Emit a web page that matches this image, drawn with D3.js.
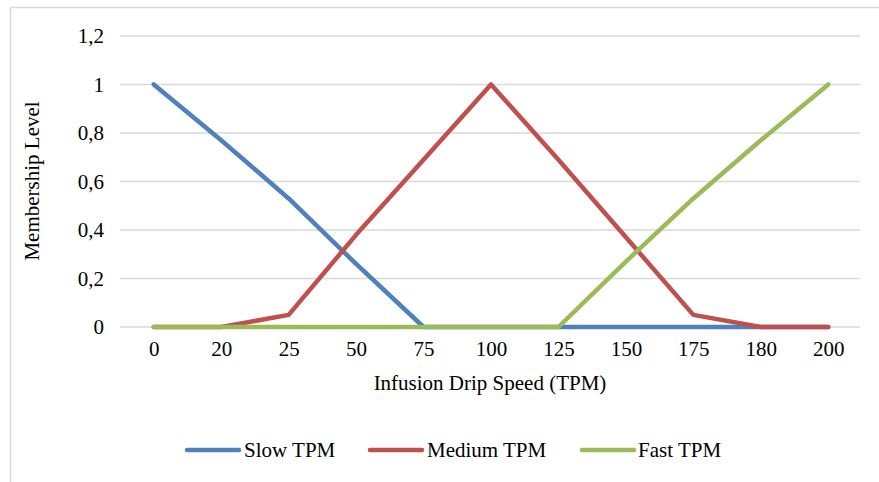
<!DOCTYPE html>
<html>
<head>
<meta charset="utf-8">
<script src="https://cdn.jsdelivr.net/npm/d3@7"></script>
<style>
  html, body { margin: 0; padding: 0; background: #fff; }
  svg { display: block; }
</style>
</head>
<body>
<svg id="chart" width="879" height="482"></svg>
<script>
const categories = ["0", "20", "25", "50", "75", "100", "125", "150", "175", "180", "200"];
const slowTPM   = [1, 0.77, 0.53, 0.26, 0, 0, 0, 0, 0, 0, 0];
const mediumTPM = [0, 0, 0.05, 0.38, 0.69, 1, 0.69, 0.37, 0.05, 0, 0];
const fastTPM   = [0, 0, 0, 0, 0, 0, 0, 0.27, 0.53, 0.77, 1];
const yTicks = [0, 0.2, 0.4, 0.6, 0.8, 1, 1.2];
const seriesNames = ["Slow TPM", "Medium TPM", "Fast TPM"];
const seriesColors = ["#4F81BD", "#C0504D", "#9BBB59"];

const series = [slowTPM, mediumTPM, fastTPM].map((v, i) => ({
  name: seriesNames[i], color: seriesColors[i], values: v
}));

const FONT = "Liberation Serif";
const FS = "21px";
const svg = d3.select("#chart");
const W = 879, H = 482;
const plot = { left: 120, right: 862, top: 36, bottom: 327 };

function styleText(sel) {
  sel.style("font-family", FONT).style("font-size", FS).style("fill", "#000");
}

// outer border
svg.append("rect")
  .attr("x", 10.5).attr("y", 7.5)
  .attr("width", W + 20).attr("height", H + 20)
  .attr("fill", "none").attr("stroke", "#d9d9d9").attr("stroke-width", 1.5);

const x = d3.scalePoint().domain(categories)
  .range([plot.left, plot.right]).padding(0.5);
const y = d3.scaleLinear().domain([0, 1.2]).range([plot.bottom, plot.top]);

// gridlines
svg.append("g").selectAll("line").data(yTicks).join("line")
  .attr("x1", plot.left).attr("x2", plot.right - 2)
  .attr("y1", d => y(d)).attr("y2", d => y(d))
  .attr("stroke", "#d9d9d9").attr("stroke-width", 1.5);

// y axis labels
const yAxis = d3.axisLeft(y).tickValues(yTicks)
  .tickFormat(d => d3.format("~g")(d).replace(".", ","))
  .tickSize(0).tickPadding(0);
const gy = svg.append("g").attr("transform", `translate(${plot.left - 16},0)`).call(yAxis);
gy.select(".domain").remove();
styleText(gy.selectAll("text"));

// x axis labels
const xAxis = d3.axisBottom(x).tickSize(0).tickPadding(0);
const gx = svg.append("g").attr("transform", `translate(0,${plot.bottom + 14})`).call(xAxis);
gx.select(".domain").remove();
styleText(gx.selectAll("text"));

// axis titles
svg.append("text")
  .attr("x", 490).attr("y", 390)
  .attr("text-anchor", "middle")
  .text("Infusion Drip Speed (TPM)")
  .call(styleText);
svg.append("text")
  .attr("transform", `translate(39,181) rotate(-90)`)
  .attr("text-anchor", "middle")
  .text("Membership Level")
  .call(styleText);

// lines
const line = d3.line().x((d, i) => x(categories[i])).y(d => y(d));
svg.append("g").selectAll("path").data(series).join("path")
  .attr("d", d => line(d.values))
  .attr("fill", "none").attr("stroke", d => d.color)
  .attr("stroke-width", 4.5).attr("stroke-linecap", "round").attr("stroke-linejoin", "round");

// legend
const legendItems = [
  { lx: 187, tx: 244 },
  { lx: 370, tx: 427 },
  { lx: 582, tx: 638 }
];
const lg = svg.append("g");
series.forEach((s, i) => {
  const it = legendItems[i];
  lg.append("line")
    .attr("x1", it.lx).attr("x2", it.lx + 52)
    .attr("y1", 450).attr("y2", 450)
    .attr("stroke", s.color).attr("stroke-width", 4.5).attr("stroke-linecap", "round");
  lg.append("text").attr("x", it.tx).attr("y", 457).text(s.name).call(styleText);
});
</script>
</body>
</html>
